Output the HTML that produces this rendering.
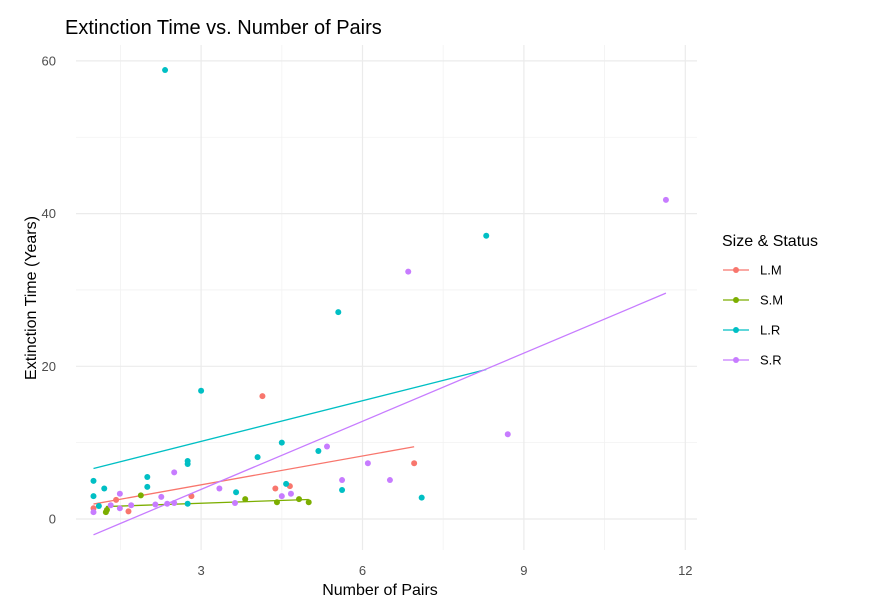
<!DOCTYPE html>
<html><head><meta charset="utf-8"><style>
body{margin:0;background:#fff;font-family:"Liberation Sans",Arial,sans-serif}
svg text{font-family:"Liberation Sans",Arial,sans-serif}
</style></head><body>
<svg id="c" width="873" height="611"></svg>
<script>
const groups=["L.M","S.M","L.R","S.R"];
const colors=["#F8766D","#7CAE00","#00BFC4","#C77CFF"];
const lmX=[1.0,1.42,1.65,2.82,4.14,4.38,4.65,6.96];
const lmY=[1.4,2.5,1.0,3.0,16.1,4.0,4.3,7.3];
const smX=[1.23,1.25,1.88,3.82,4.41,4.82,5.0];
const smY=[0.9,1.2,3.1,2.6,2.2,2.6,2.2];
const lrX=[1.0,1.0,1.1,1.2,2.0,2.0,2.33,2.75,2.75,2.75,3.0,3.65,4.05,4.5,4.58,5.18,5.55,5.62,7.1,8.3];
const lrY=[5.0,3.0,1.7,4.0,5.5,4.2,58.8,7.6,7.2,2.0,16.8,3.5,8.1,10.0,4.6,8.9,27.1,3.8,2.8,37.1];
const srX=[1.0,1.32,1.49,1.49,1.7,2.15,2.26,2.37,2.5,2.5,3.34,3.63,4.5,4.67,5.34,5.62,6.1,6.51,6.85,8.7,11.64];
const srY=[0.9,1.8,3.3,1.4,1.8,1.9,2.9,2.0,6.1,2.1,4.0,2.1,3.0,3.3,9.5,5.1,7.3,5.1,32.4,11.1,41.8];
const xTicks=[3,6,9,12];
const yTicks=[0,20,40,60];
const data=[[lmX,lmY],[smX,smY],[lrX,lrY],[srX,srY]];
const NS="http://www.w3.org/2000/svg",svg=document.getElementById('c');
const X=v=>39.7+v*53.8, Y=v=>519-v*7.635;
const L=76,R=697,T=45,B=550;
function mk(t,a,p){const e=document.createElementNS(NS,t);for(const k in a)e.setAttribute(k,a[k]);(p||svg).appendChild(e);return e;}
const grid=mk('g',{});


[1.5,4.5,7.5,10.5].forEach(v=>mk('line',{x1:X(v),x2:X(v),y1:T,y2:B,stroke:'#f2f2f2','stroke-width':0.8},grid));
[10,30,50].forEach(v=>mk('line',{x1:L,x2:R,y1:Y(v),y2:Y(v),stroke:'#f2f2f2','stroke-width':0.8},grid));
xTicks.forEach(v=>{mk('line',{x1:X(v),x2:X(v),y1:T,y2:B,stroke:'#ebebeb','stroke-width':1.2},grid);
 const t=mk('text',{x:X(v),y:575,'text-anchor':'middle','font-size':13,fill:'#4d4d4d'});t.textContent=v;
 
 });
yTicks.forEach(v=>{mk('line',{x1:L,x2:R,y1:Y(v),y2:Y(v),stroke:'#ebebeb','stroke-width':1.2},grid);
 const t=mk('text',{x:56,y:Y(v)+4.5,'text-anchor':'end','font-size':13,fill:'#4d4d4d'});t.textContent=v;
 
 });
data.forEach((d,i)=>{
 const [xs,ys]=d;const n=xs.length;
 const mx=xs.reduce((a,b)=>a+b)/n,my=ys.reduce((a,b)=>a+b)/n;
 let sxy=0,sxx=0;xs.forEach((x,j)=>{sxy+=(x-mx)*(ys[j]-my);sxx+=(x-mx)**2;});
 const b=sxy/sxx,a=my-b*mx,x0=Math.min(...xs),x1=Math.max(...xs);
 const ln=mk('line',{x1:X(x0),y1:Y(a+b*x0),x2:X(x1),y2:Y(a+b*x1),stroke:colors[i],'stroke-width':1.3});
 
 
 xs.forEach((x,j)=>{const c=mk('circle',{cx:X(x),cy:Y(ys[j]),r:3,fill:colors[i]});
  
  });
});
let t=mk('text',{x:65,y:34,'font-size':20,fill:'#000'});t.textContent='Extinction Time vs. Number of Pairs';


t=mk('text',{x:380,y:595,'text-anchor':'middle','font-size':16,fill:'#000'});t.textContent='Number of Pairs';


t=mk('text',{x:0,y:0,'text-anchor':'middle','font-size':16,fill:'#000',transform:'translate(36,298) rotate(-90)'});t.textContent='Extinction Time (Years)';


t=mk('text',{x:722,y:246,'font-size':16,fill:'#000'});t.textContent='Size & Status';


groups.forEach((g,i)=>{const y=270+i*30;const e=mk('g',{});
 
 
 mk('line',{x1:723,x2:749,y1:y,y2:y,stroke:colors[i],'stroke-width':1.3},e);
 mk('circle',{cx:736,cy:y,r:3,fill:colors[i]},e);
 const tt=mk('text',{x:760,y:y+4.5,'font-size':13,fill:'#000'},e);tt.textContent=g;});
</script>
</body></html>
